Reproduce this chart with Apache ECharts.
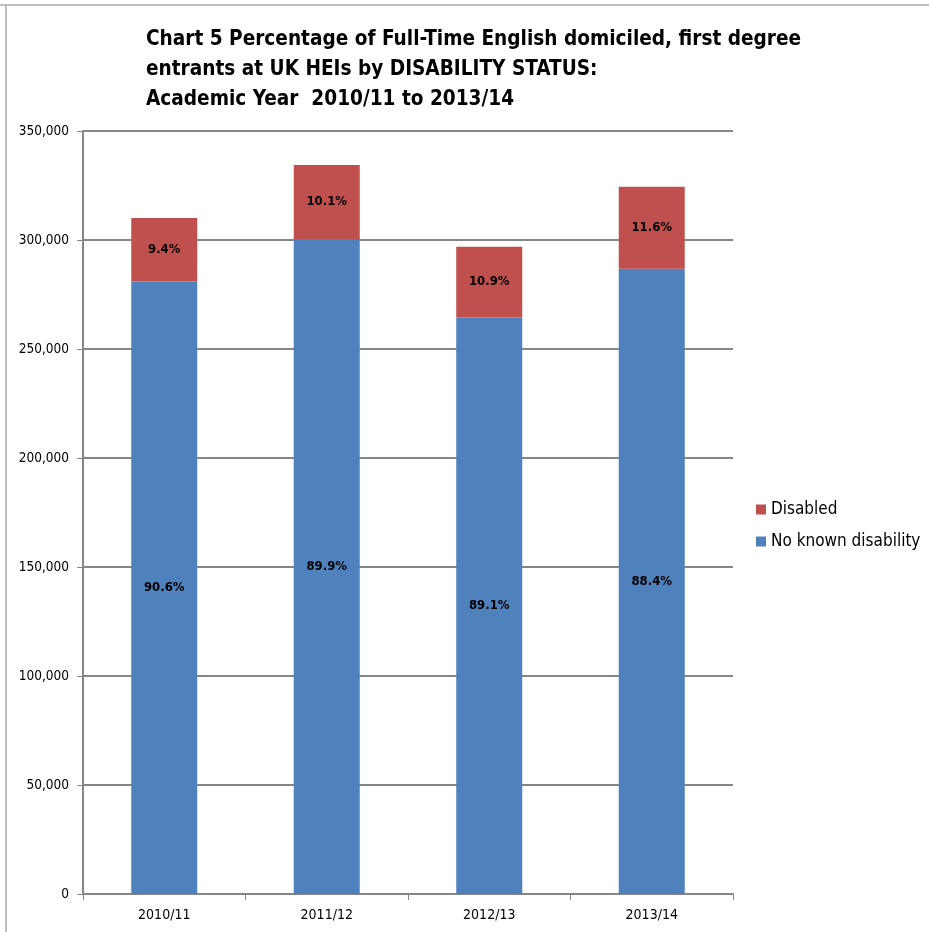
<!DOCTYPE html>
<html>
<head>
<meta charset="utf-8">
<script src="https://cdn.jsdelivr.net/npm/echarts@6/dist/echarts.min.js"></script>
<style>html,body{margin:0;padding:0;background:#fff}#c{width:930px;height:932px}</style>
</head>
<body>
<div id="c"></div>
<script>
const categories = ['2010/11', '2011/12', '2012/13', '2013/14'];
const noKnownDisability = [281000, 300400, 264500, 286800];
const disabled = [29100, 34000, 32400, 37600];
const noKnownPct = ['90.6%', '89.9%', '89.1%', '88.4%'];
const disabledPct = ['9.4%', '10.1%', '10.9%', '11.6%'];
const yTicks = [0, 50000, 100000, 150000, 200000, 250000, 300000, 350000];

const chart = echarts.init(document.getElementById('c'), null, {renderer: 'canvas'});
const font = "'DejaVu Sans Condensed', 'Liberation Sans', sans-serif";
chart.setOption({
  animation: false,
  backgroundColor: '#fff',
  title: {
    text: 'Chart 5 Percentage of Full-Time English domiciled, first degree\nentrants at UK HEIs by DISABILITY STATUS:\nAcademic Year  2010/11 to 2013/14',
    left: 141, top: 20,
    textStyle: {fontFamily: font, fontWeight: 'bold', fontSize: 20.6, lineHeight: 30, color: '#000'}
  },
  legend: {
    orient: 'vertical', left: 751, top: 496, itemGap: 15,
    itemWidth: 10, itemHeight: 10, icon: 'rect',
    textStyle: {fontFamily: font, fontSize: 17, color: '#000'},
    data: ['Disabled', 'No known disability']
  },
  grid: {left: 83, right: 197, top: 131, bottom: 38, containLabel: false},
  xAxis: {
    type: 'category', data: categories,
    axisLine: {lineStyle: {color: '#868686', width: 2}},
    axisTick: {show: true, length: 6, lineStyle: {color: '#868686', width: 1}},
    axisLabel: {fontFamily: font, fontSize: 14, color: '#000', margin: 14}
  },
  yAxis: {
    type: 'value', min: 0, max: 350000, interval: 50000,
    axisLine: {show: true, lineStyle: {color: '#868686', width: 2}},
    axisTick: {show: true, length: 6, lineStyle: {color: '#868686', width: 1}},
    splitLine: {lineStyle: {color: '#868686', width: 2}},
    axisLabel: {fontFamily: font, fontSize: 13.5, color: '#000', margin: 14,
      formatter: v => yTicks.includes(v) ? v.toLocaleString('en-US') : ''}
  },
  series: [
    {
      name: 'No known disability', type: 'bar', stack: 'a', barWidth: 66,
      data: noKnownDisability,
      itemStyle: {color: '#4F81BD'},
      label: {show: true, position: 'inside', formatter: p => noKnownPct[p.dataIndex],
        fontFamily: font, fontWeight: 'bold', fontSize: 13, color: '#000'}
    },
    {
      name: 'Disabled', type: 'bar', stack: 'a', barWidth: 66,
      data: disabled,
      itemStyle: {color: '#C0504D'},
      label: {show: true, position: 'inside', formatter: p => disabledPct[p.dataIndex],
        fontFamily: font, fontWeight: 'bold', fontSize: 13, color: '#000'}
    }
  ],
  graphic: [
    {type: 'line', shape: {x1: 0, y1: 5, x2: 929, y2: 5}, style: {stroke: '#aaa', lineWidth: 1.5}},
    {type: 'line', shape: {x1: 6, y1: 5, x2: 6, y2: 932}, style: {stroke: '#aaa', lineWidth: 1.5}}
  ]
});
</script>
</body>
</html>
